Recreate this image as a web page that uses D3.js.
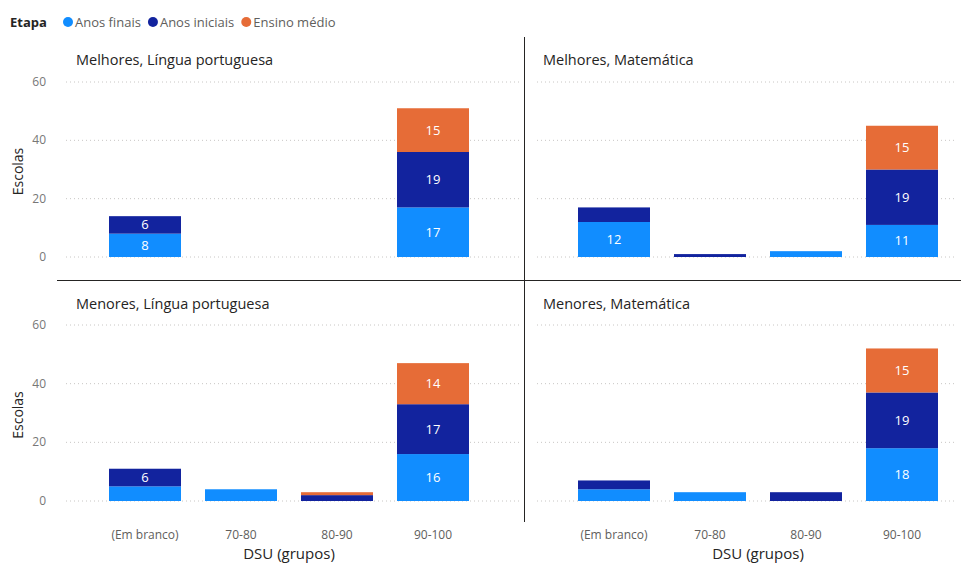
<!DOCTYPE html>
<html>
<head>
<meta charset="utf-8">
<script src="https://cdn.jsdelivr.net/npm/d3@7"></script>
<style>
  body { margin: 0; background: #fff; }
  svg { font-family: "Segoe UI", "Open Sans", sans-serif; }
</style>
</head>
<body>
<svg id="chart" width="961" height="563"></svg>
<script>
"use strict";

// DSU groups on the x axis and the stacked series
const categories = ["(Em branco)", "70-80", "80-90", "90-100"];
const seriesNames = ["Anos finais", "Anos iniciais", "Ensino médio"];
const seriesColors = ["#118DFF", "#12239E", "#E66C37"];
const yTicks = [0, 20, 40, 60];

// values per category: [Anos finais, Anos iniciais, Ensino médio]
const melhoresPortugues = [[8, 6, 0], [0, 0, 0], [0, 0, 0], [17, 19, 15]];
const melhoresMatematica = [[12, 5, 0], [0, 1, 0], [2, 0, 0], [11, 19, 15]];
const menoresPortugues = [[5, 6, 0], [4, 0, 0], [0, 2, 1], [16, 17, 14]];
const menoresMatematica = [[4, 3, 0], [3, 0, 0], [0, 3, 0], [18, 19, 15]];

const panelTitles = [
  "Melhores, Língua portuguesa", "Melhores, Matemática",
  "Menores, Língua portuguesa", "Menores, Matemática"
];
const panelValues = [melhoresPortugues, melhoresMatematica, menoresPortugues, menoresMatematica];

const svg = d3.select("#chart");

// legend
const legend = svg.append("g").attr("transform", "translate(10,22)");
legend.append("text")
  .attr("y", 4.5)
  .attr("font-size", 13).attr("font-weight", "bold").attr("fill", "#252423")
  .text("Etapa");
let lx = 53;
seriesNames.forEach((name, i) => {
  legend.append("circle").attr("cx", lx + 5).attr("cy", 0).attr("r", 5).attr("fill", seriesColors[i]);
  const t = legend.append("text")
    .attr("x", lx + 12).attr("y", 4.5)
    .attr("font-size", 13).attr("fill", "#605E5C")
    .text(name);
  lx += 12 + t.node().getComputedTextLength() + 7;
});

// panel geometry: columns and rows
const cols = [
  { gridX0: 66, gridX1: 520, bandX0: 97, bandX1: 481, titleX: 76 },
  { gridX0: 537, gridX1: 956, bandX0: 566, bandX1: 950, titleX: 543 }
];
const rows = [
  { y0: 257, y1: 82, titleY: 65 },
  { y0: 501, y1: 325, titleY: 309 }
];

const stack = d3.stack().keys([0, 1, 2]);

panelValues.forEach((values, p) => {
  const col = cols[p % 2];
  const row = rows[Math.floor(p / 2)];
  const g = svg.append("g");

  const x = d3.scaleBand().domain(categories).range([col.bandX0, col.bandX1]).paddingInner(0.25).paddingOuter(0.125);
  const y = d3.scaleLinear().domain([0, 60]).range([row.y0, row.y1]);

  g.append("text")
    .attr("x", col.titleX).attr("y", row.titleY)
    .attr("font-size", 14.5).attr("fill", "#252423")
    .text(panelTitles[p]);

  // dotted gridlines
  g.selectAll("line.grid")
    .data(yTicks)
    .enter()
    .append("line")
    .attr("x1", col.gridX0).attr("x2", col.gridX1)
    .attr("y1", d => y(d)).attr("y2", d => y(d))
    .attr("stroke", "#C8C6C4").attr("stroke-width", 1)
    .attr("stroke-dasharray", "1,3");

  // y axis on the left column only
  if (p % 2 === 0) {
    g.selectAll("text.tick")
      .data(yTicks)
      .enter()
      .append("text")
      .attr("x", 46).attr("y", d => y(d) + 4)
      .attr("text-anchor", "end")
      .attr("font-size", 12).attr("fill", "#777")
      .text(d => d);
    g.append("text")
      .attr("transform", `translate(23,${(row.y0 + row.y1) / 2 + 2}) rotate(-90)`)
      .attr("text-anchor", "middle")
      .attr("font-size", 14).attr("fill", "#252423")
      .text("Escolas");
  }

  const stacked = stack(values);
  stacked.forEach((layer, s) => {
    layer.forEach((d, i) => {
      if (d[1] - d[0] <= 0) return;
      g.append("rect")
        .attr("x", x(categories[i]))
        .attr("width", x.bandwidth())
        .attr("y", y(d[1]))
        .attr("height", y(d[0]) - y(d[1]))
        .attr("fill", seriesColors[s]);
      // Power BI hides labels that do not fit in the segment
      if (d[1] - d[0] >= 6) {
        g.append("text")
          .attr("x", x(categories[i]) + x.bandwidth() / 2)
          .attr("y", (y(d[0]) + y(d[1])) / 2 + 4.5)
          .attr("text-anchor", "middle")
          .attr("font-size", 13).attr("fill", "#fff")
          .text(d[1] - d[0]);
      }
    });
  });

  // x axis labels on the bottom row only
  if (p >= 2) {
    g.selectAll("text.cat")
      .data(categories)
      .enter()
      .append("text")
      .attr("x", d => x(d) + x.bandwidth() / 2)
      .attr("y", 539)
      .attr("text-anchor", "middle")
      .attr("font-size", 12).attr("fill", "#605E5C")
      .text(d => d);
    g.append("text")
      .attr("x", (x(categories[0]) + x(categories[3]) + x.bandwidth()) / 2)
      .attr("y", 559)
      .attr("text-anchor", "middle")
      .attr("font-size", 15).attr("fill", "#252423")
      .text("DSU (grupos)");
  }
});

// panel dividers
svg.append("line")
  .attr("x1", 524.5).attr("x2", 524.5).attr("y1", 37).attr("y2", 522)
  .attr("stroke", "#252423").attr("stroke-width", 1);
svg.append("line")
  .attr("x1", 57).attr("x2", 961).attr("y1", 280.5).attr("y2", 280.5)
  .attr("stroke", "#252423").attr("stroke-width", 1);
</script>
</body>
</html>
